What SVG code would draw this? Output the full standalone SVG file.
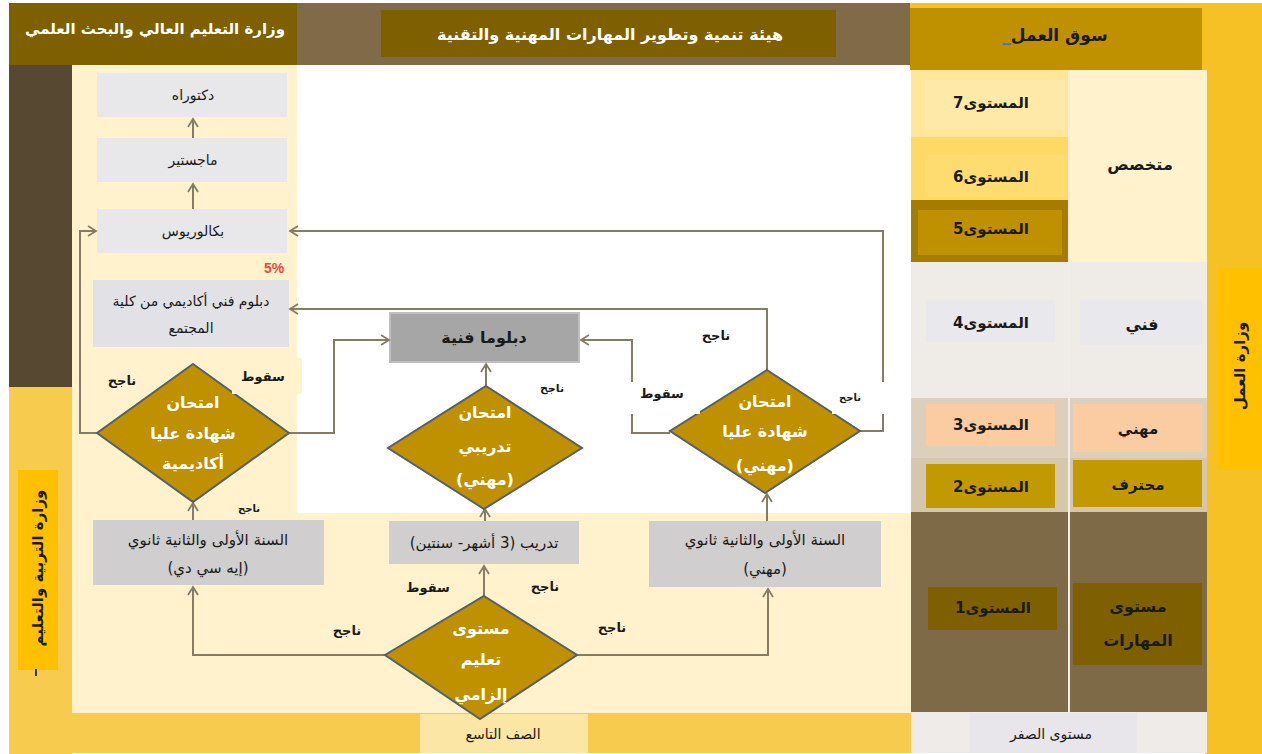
<svg xmlns="http://www.w3.org/2000/svg" width="1262" height="754" viewBox="0 0 1262 754">
<style>
.t{font-family:"DejaVu Sans",sans-serif;direction:rtl;text-anchor:middle;fill:#1a1a1a}
.b{font-weight:bold}
.w{fill:#ffffff}
.node{fill:#E8E7EA}
.gbox{fill:#D0CECE}
.dia{fill:#BF9000;stroke:#56606B;stroke-width:2}
.con{fill:none;stroke:#857C66;stroke-width:2}
</style>
<defs>
<marker id="arr" viewBox="0 0 12 12" refX="10" refY="6" markerWidth="12" markerHeight="12" markerUnits="userSpaceOnUse" orient="auto">
<path d="M2,1 L10,6 L2,11" fill="none" stroke="#857C66" stroke-width="1.8"/>
</marker>
</defs>

<!-- background -->
<g id="background">
<rect x="0" y="0" width="1262" height="754" fill="#ffffff"/>
<rect x="1205" y="3" width="57" height="751" fill="#F5C124"/>
<rect x="910" y="3" width="297" height="67" fill="#F5C124"/>
<rect x="9" y="3" width="288" height="62" fill="#7F6000"/>
<rect x="297" y="3" width="613" height="62" fill="#806A48"/>
<rect x="9" y="65" width="63" height="322" fill="#574832"/>
<rect x="9" y="387" width="63" height="367" fill="#F7CB4D"/>
<rect x="72" y="65" width="839" height="648" fill="#FFF2CC"/>
<rect x="297" y="65" width="614" height="448" fill="#ffffff"/>
<rect x="9" y="713" width="902" height="40" fill="#F7CB4D"/>
<rect x="1067" y="70" width="4" height="642" fill="#F1ECE4"/>
</g>

<g id="header-higher-ed">
<text class="t b w" x="155" y="34" font-size="15">وزارة التعليم العالي والبحث العلمي</text>
</g>
<g id="header-tvet">
<rect x="381" y="10" width="455" height="47" fill="#7F6000"/>
<text class="t b w" x="610" y="40" font-size="16">هيئة تنمية وتطوير المهارات المهنية والتقنية</text>
</g>
<g id="header-labour">
<rect x="910" y="8" width="292" height="62" fill="#BF9000"/>
<text class="t b" x="1055" y="41" font-size="17">سوق العمل<tspan fill="#4472C4">_</tspan></text>
</g>

<!-- right columns -->
<g id="row-specialist">
<rect x="911" y="70" width="157" height="67" fill="#FFE699"/>
<rect x="925" y="80" width="140" height="50" fill="#FFE9A8"/>
<text class="t b" x="991" y="108" font-size="15">المستوى7</text>
<rect x="911" y="137" width="157" height="63" fill="#FFD966"/>
<rect x="925" y="155" width="140" height="42" fill="#FFDC70"/>
<text class="t b" x="991" y="182" font-size="15">المستوى6</text>
<rect x="911" y="200" width="157" height="62" fill="#A57C00"/>
<rect x="918" y="210" width="144" height="45" fill="#BF9000"/>
<text class="t b" x="991" y="234" font-size="15">المستوى5</text>
<rect x="1070" y="70" width="137" height="192" fill="#FFF2CC"/>
<text class="t b" x="1140" y="170" font-size="16">متخصص</text>
</g>
<g id="row-technician">
<rect x="911" y="262" width="157" height="136" fill="#EFEBE7"/>
<rect x="1070" y="262" width="137" height="136" fill="#EFEBE7"/>
<rect x="926" y="300" width="129" height="42" fill="#E9E8EC"/>
<rect x="1080" y="300" width="122" height="45" fill="#E9E8EC"/>
<text class="t b" x="991" y="328" font-size="15">المستوى4</text>
<text class="t b" x="1142" y="330" font-size="16">فني</text>
</g>
<g id="row-vocational">
<rect x="911" y="398" width="157" height="60" fill="#DCD0BD"/>
<rect x="1070" y="398" width="137" height="60" fill="#DCD0BD"/>
<rect x="926" y="404" width="129" height="42" fill="#FBCBA2"/>
<rect x="1073" y="404" width="129" height="48" fill="#FBCBA2"/>
<text class="t b" x="991" y="430" font-size="15">المستوى3</text>
<text class="t b" x="1138" y="434" font-size="15">مهني</text>
</g>
<g id="row-craftsman">
<rect x="911" y="458" width="157" height="54" fill="#D5C7AE"/>
<rect x="1070" y="458" width="137" height="54" fill="#D5C7AE"/>
<rect x="926" y="464" width="129" height="44" fill="#C29A00"/>
<rect x="1073" y="460" width="129" height="47" fill="#C29A00"/>
<text class="t b" x="991" y="492" font-size="15">المستوى2</text>
<text class="t b" x="1138" y="490" font-size="15">محترف</text>
</g>
<g id="row-skills">
<rect x="911" y="512" width="157" height="200" fill="#7F6A47"/>
<rect x="1070" y="512" width="137" height="200" fill="#7F6A47"/>
<rect x="928" y="587" width="129" height="43" fill="#7F6000"/>
<rect x="1073" y="583" width="129" height="82" fill="#7F6000"/>
<text class="t b" x="993" y="613" font-size="15">المستوى1</text>
<text class="t b" x="1138" y="612" font-size="16">مستوى</text>
<text class="t b" x="1138" y="646" font-size="16">المهارات</text>
</g>
<g id="row-zero">
<rect x="911" y="712" width="296" height="41" fill="#EFEBE8"/>
<rect x="970" y="713" width="167" height="40" fill="#E8E6EA"/>
<text class="t" x="1051" y="739" font-size="14">مستوى الصفر</text>
</g>
<g id="side-labour-ministry">
<rect x="1218" y="268" width="44" height="201" fill="#FFC000"/>
<text class="t b" x="0" y="0" font-size="15" transform="translate(1245,366) rotate(-90)">وزارة العمل</text>
</g>
<g id="side-education-ministry">
<rect x="18" y="470" width="40" height="200" fill="#FFC000"/>
<text class="t b" x="0" y="0" font-size="15" transform="translate(43,568) rotate(-90)">وزارة التربية والتعليم</text>
<rect x="35" y="669" width="2" height="7" fill="#333333"/>
</g>

<!-- left column nodes -->
<g id="node-phd">
<rect class="node" x="97" y="73" width="190" height="44"/>
<text class="t" x="193" y="100" font-size="14">دكتوراه</text>
</g>
<g id="node-masters">
<rect class="node" x="97" y="138" width="190" height="44"/>
<text class="t" x="193" y="165" font-size="14">ماجستير</text>
</g>
<g id="node-bachelor">
<rect class="node" x="97" y="209" width="190" height="44"/>
<text class="t" x="193" y="236" font-size="14">بكالوريوس</text>
</g>
<g id="node-college-diploma">
<text x="274" y="273" font-family="Liberation Sans,sans-serif" font-size="14" font-weight="bold" fill="#E84C3D" text-anchor="middle">5%</text>
<rect x="93" y="280" width="196" height="67" fill="#E2E2E6"/>
<text class="t" x="191" y="306" font-size="14">دبلوم فني أكاديمي من كلية</text>
<text class="t" x="191" y="333" font-size="14">المجتمع</text>
</g>
<g id="node-tech-diploma">
<rect x="390" y="313" width="189" height="49" fill="#A6A6A6" stroke="#BFBFBF" stroke-width="2"/>
<text class="t b" x="484" y="343" font-size="16">دبلوما فنية</text>
</g>
<g id="node-secondary-acd">
<rect class="gbox" x="93" y="520" width="231" height="65"/>
<text class="t" x="208" y="545" font-size="15">السنة الأولى والثانية  ثانوي</text>
<text class="t" x="208" y="573" font-size="15">(إيه سي دي)</text>
</g>
<g id="node-training">
<rect class="gbox" x="389" y="521" width="190" height="43"/>
<text class="t" x="484" y="548" font-size="15">تدريب (3 أشهر- سنتين)</text>
</g>
<g id="node-secondary-voc">
<rect class="gbox" x="649" y="521" width="232" height="66"/>
<text class="t" x="765" y="545" font-size="15">السنة الأولى والثانية  ثانوي</text>
<text class="t" x="765" y="574" font-size="15">(مهني)</text>
</g>
<g id="node-grade9">
<rect x="420" y="714" width="168" height="39" fill="#FCE6A6"/>
<text class="t" x="503" y="739" font-size="14">الصف التاسع</text>
</g>

<!-- connectors -->
<g id="connectors">
<path class="con" d="M193,138 V119" marker-end="url(#arr)"/>
<path class="con" d="M193,209 V184" marker-end="url(#arr)"/>
<path class="con" d="M97,433 H80 V231 H96" marker-end="url(#arr)"/>
<path class="con" d="M860,431 H883 V231 H290" marker-end="url(#arr)"/>
<path class="con" d="M767,370 V309 H290" marker-end="url(#arr)"/>
<path class="con" d="M670,433 H632 V340 H581" marker-end="url(#arr)"/>
<path class="con" d="M289,433 H334 V340 H389" marker-end="url(#arr)"/>
<path class="con" d="M486,386 V364" marker-end="url(#arr)"/>
<path class="con" d="M485,521 V509" marker-end="url(#arr)"/>
<path class="con" d="M484,596 V566" marker-end="url(#arr)"/>
<path class="con" d="M385,655 H193 V587" marker-end="url(#arr)"/>
<path class="con" d="M577,655 H768 V589" marker-end="url(#arr)"/>
<path class="con" d="M193,520 V503" marker-end="url(#arr)"/>
<path class="con" d="M767,521 V494" marker-end="url(#arr)"/>
</g>

<!-- decision diamonds -->
<g id="dec-academic">
<polygon class="dia" points="193,364 289,433 193,502 97,433"/>
<text class="t b w" x="193" y="408" font-size="16">امتحان</text>
<text class="t b w" x="193" y="439" font-size="16">شهادة عليا</text>
<text class="t b w" x="193" y="469" font-size="16">أكاديمية</text>
</g>
<g id="dec-training">
<polygon class="dia" points="486,386 582,448 484,509 388,448"/>
<text class="t b w" x="485" y="418" font-size="16">امتحان</text>
<text class="t b w" x="485" y="452" font-size="16">تدريبي</text>
<text class="t b w" x="485" y="485" font-size="16">(مهني)</text>
</g>
<g id="dec-vocational">
<polygon class="dia" points="767,370 860,431 765,493 670,431"/>
<text class="t b w" x="765" y="407" font-size="16">امتحان</text>
<text class="t b w" x="765" y="437" font-size="16">شهادة عليا</text>
<text class="t b w" x="765" y="471" font-size="16">(مهني)</text>
</g>
<g id="dec-compulsory">
<polygon class="dia" points="484,596 577,655 480,719 385,655"/>
<text class="t b w" x="481" y="634" font-size="16">مستوى</text>
<text class="t b w" x="481" y="665" font-size="16">تعليم</text>
<text class="t b w" x="481" y="700" font-size="16">إلزامي</text>
</g>

<!-- edge labels -->
<g id="labels">
<rect x="232" y="358" width="70" height="36" fill="#FFF2CC"/>
<text class="t b" x="263" y="381" font-size="13">سقوط</text>
<text class="t b" x="122" y="385" font-size="13">ناجح</text>
<text class="t b" x="249" y="512" font-size="10">ناجح</text>
<text class="t b" x="552" y="392" font-size="11">ناجح</text>
<text class="t b" x="716" y="340" font-size="13">ناجح</text>
<rect x="626" y="382" width="74" height="32" fill="#ffffff"/>
<text class="t b" x="662" y="398" font-size="13">سقوط</text>
<rect x="832" y="382" width="56" height="32" fill="#ffffff"/>
<text class="t b" x="850" y="401" font-size="10">ناجح</text>
<text class="t b" x="428" y="592" font-size="13">سقوط</text>
<text class="t b" x="545" y="591" font-size="13">ناجح</text>
<text class="t b" x="612" y="632" font-size="13">ناجح</text>
<text class="t b" x="347" y="635" font-size="13">ناجح</text>
</g>
</svg>
